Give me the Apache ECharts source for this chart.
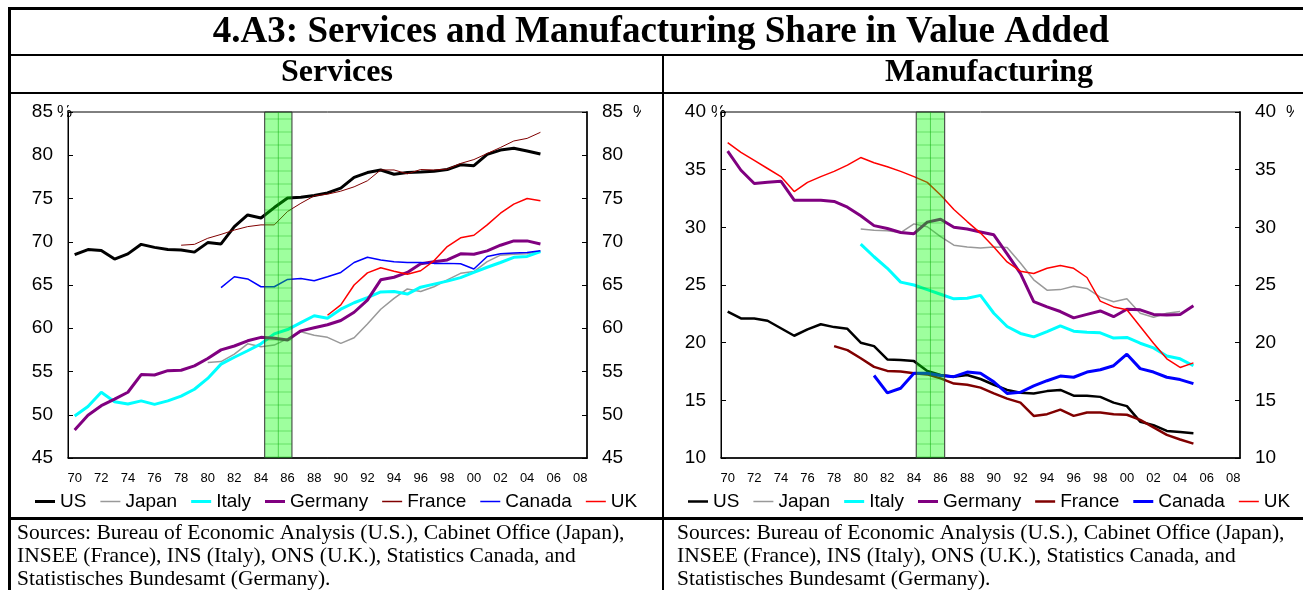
<!DOCTYPE html>
<html>
<head>
<meta charset="utf-8">
<title>4.A3: Services and Manufacturing Share in Value Added</title>
<script src="https://cdn.jsdelivr.net/npm/echarts@6/dist/echarts.min.js"></script>
<style>
  html, body { margin: 0; padding: 0; background: #fff; }
  #chart { width: 1303px; height: 590px; }
</style>
</head>
<body>
<div id="chart"></div>
<script>
  // categories: 1970 .. 2008
  var years = ['1970', '1971', '1972', '1973', '1974', '1975', '1976', '1977', '1978', '1979',
    '1980', '1981', '1982', '1983', '1984', '1985', '1986', '1987', '1988', '1989',
    '1990', '1991', '1992', '1993', '1994', '1995', '1996', '1997', '1998', '1999',
    '2000', '2001', '2002', '2003', '2004', '2005', '2006', '2007', '2008']
  var countries = ['US', 'Japan', 'Italy', 'Germany', 'France', 'Canada', 'UK']
  var colors = ['#000000', '#999999', '#00ffff', '#800080', '#800000', '#0000ff', '#ff0000']
  var svcRange = [45, 85]
  var mfgRange = [10, 40]
  // shaded period, in year units (year centre = whole number)
  var shadeServices = [1984.28, 1986.33]
  var shadeManufacturing = [1984.17, 1986.31]

  // Services share in value added (%)
  var svcUS = [68.5, 69.1, 69.0, 68.0, 68.6, 69.7, 69.35, 69.1, 69.05, 68.8, 69.9, 69.75, 71.75, 73.1, 72.75, 73.95, 75.05, 75.15, 75.35, 75.65,
    76.2, 77.45, 78.0, 78.3, 77.8, 78.0, 78.05, 78.15, 78.35, 78.9, 78.8, 80.1, 80.6, 80.8, 80.5, 80.15]
  var svcJapan = [56.05, 56.15, 57.0, 58.2, 57.85, 58.05, 58.8, 59.6, 59.2, 58.95, 58.25, 58.9, 60.5, 62.2, 63.45, 64.55, 64.25, 64.8,
    65.6, 66.35, 66.55, 67.7, 68.45, 68.55, 68.6, 68.9]
  var svcItaly = [49.85, 50.95, 52.6, 51.5, 51.25, 51.6, 51.2, 51.6, 52.15, 52.95, 54.2, 55.85, 56.65, 57.4, 58.2, 59.35, 59.85, 60.65,
    61.45, 61.15, 62.2, 62.95, 63.55, 64.2, 64.25, 63.95, 64.75, 65.1, 65.45, 65.85, 66.45, 67.05, 67.6, 68.2, 68.3, 68.85]
  var svcGermany = [48.25, 49.95, 51.05, 51.8, 52.6, 54.65, 54.6, 55.1, 55.15, 55.65, 56.5, 57.5, 57.95, 58.55, 58.95, 58.85, 58.65,
    59.7, 60.05, 60.4, 60.9, 61.85, 63.25, 65.6, 65.9, 66.45, 67.45, 67.7, 67.9, 68.6, 68.55, 68.95, 69.6, 70.1, 70.1, 69.75]
  var svcFrance = [69.6, 69.7, 70.4, 70.85, 71.35, 71.75, 71.95, 71.95, 73.5, 74.45, 75.3, 75.5, 75.85, 76.35, 77.05, 78.3, 78.3, 77.85,
    78.35, 78.3, 78.4, 79.05, 79.5, 80.2, 80.9, 81.65, 81.95, 82.65]
  var svcCanada = [64.7, 65.95, 65.7, 64.8, 64.8, 65.65, 65.75, 65.5, 65.95, 66.45, 67.6, 68.2, 67.9, 67.7, 67.6, 67.6, 67.5, 67.5,
    67.45, 66.85, 68.3, 68.6, 68.7, 68.75, 68.95]
  var svcUK = [61.5, 62.7, 65.0, 66.4, 67.0, 66.6, 66.25, 66.65, 67.8, 69.45, 70.45, 70.75, 71.95, 73.3, 74.35, 75.0, 74.75]

  // Manufacturing share in value added (%)
  var mfgUS = [22.7, 22.1, 22.1, 21.9, 21.25, 20.6, 21.15, 21.6, 21.35, 21.2, 20.0, 19.7, 18.55, 18.5, 18.4, 17.55, 17.2, 17.05, 17.2,
    16.85, 16.35, 15.9, 15.65, 15.6, 15.8, 15.9, 15.4, 15.4, 15.3, 14.8, 14.5, 13.15, 12.85, 12.35, 12.25, 12.15]
  var mfgJapan = [29.85, 29.75, 29.7, 29.55, 30.3, 30.05, 29.2, 28.45, 28.3, 28.2, 28.3, 28.25, 26.9, 25.45, 24.55, 24.6, 24.9, 24.7,
    23.95, 23.55, 23.8, 22.55, 22.2, 22.55, 22.7]
  var mfgItaly = [28.55, 27.45, 26.45, 25.25, 25.0, 24.6, 24.2, 23.8, 23.85, 24.1, 22.55, 21.4, 20.8, 20.5, 20.95, 21.45, 21.0, 20.9,
    20.85, 20.4, 20.45, 19.95, 19.55, 18.85, 18.6, 18.0]
  var mfgGermany = [36.6, 34.95, 33.8, 33.9, 34.0, 32.35, 32.35, 32.35, 32.25, 31.75, 31.0, 30.15, 29.9, 29.55, 29.45, 30.45, 30.7, 30.0,
    29.85, 29.6, 29.35, 27.7, 26.0, 23.55, 23.1, 22.7, 22.15, 22.45, 22.75, 22.25, 22.9, 22.85, 22.45, 22.4, 22.45, 23.2]
  var mfgFrance = [19.7, 19.35, 18.65, 17.9, 17.55, 17.5, 17.35, 17.25, 16.9, 16.45, 16.35, 16.1, 15.6, 15.15, 14.8, 13.65, 13.8, 14.2,
    13.65, 13.95, 13.95, 13.8, 13.75, 13.3, 12.65, 12.0, 11.6, 11.25]
  var mfgCanada = [17.15, 15.65, 16.05, 17.35, 17.35, 17.15, 17.05, 17.45, 17.35, 16.6, 15.6, 15.7, 16.25, 16.7, 17.1, 17.0, 17.45,
    17.65, 18.0, 19.0, 17.75, 17.45, 17.0, 16.8, 16.45]
  var mfgUK = [37.35, 36.5, 35.8, 35.1, 34.4, 33.1, 33.9, 34.4, 34.85, 35.4, 36.05, 35.6, 35.25, 34.85, 34.4, 33.9, 32.8, 31.55, 30.5,
    29.5, 28.3, 27.0, 26.2, 26.0, 26.45, 26.7, 26.45, 25.65, 23.6, 23.1, 22.85, 21.4, 19.95, 18.6, 17.85, 18.25]

  var sources = 'Sources: Bureau of Economic Analysis (U.S.), Cabinet Office (Japan),\n' +
    'INSEE (France), INS (Italy), ONS (U.K.), Statistics Canada, and\n' +
    'Statistisches Bundesamt (Germany).'

  // put a series that starts in a later year on the 1970.. category axis
  function fromYear(start, values) {
    var out = []
    for (var i = 0; i < years.length; i++) {
      var k = i - (start - 1970)
      out.push(k >= 0 && k < values.length ? values[k] : null)
    }
    return out
  }

  var svcData = [fromYear(1970, svcUS), fromYear(1980, svcJapan), fromYear(1970, svcItaly), fromYear(1970, svcGermany),
    fromYear(1978, svcFrance), fromYear(1981, svcCanada), fromYear(1989, svcUK)]
  var mfgData = [fromYear(1970, mfgUS), fromYear(1980, mfgJapan), fromYear(1980, mfgItaly), fromYear(1970, mfgGermany),
    fromYear(1978, mfgFrance), fromYear(1981, mfgCanada), fromYear(1970, mfgUK)]
  var svcWidths = [3, 1.5, 3, 3, 1, 1.5, 1.5]
  var mfgWidths = [2.5, 1.5, 3, 3, 2.5, 3, 1.5]

  var font = 'Liberation Sans'
  var serif = 'Liberation Serif'

  function makeSeries(data, widths, xi, yi) {
    return countries.map(function (name, i) {
      return {
        name: name,
        type: 'line',
        xAxisIndex: xi,
        yAxisIndex: yi,
        data: data[i],
        symbol: 'none',
        connectNulls: false,
        lineStyle: { color: colors[i], width: widths[i] },
        itemStyle: { color: colors[i] },
        z: 3
      }
    })
  }

  // translucent green band drawn over the lines, with a faint grid pattern
  function shadeSeries(range, yRange, xi, yi) {
    return {
      type: 'custom',
      xAxisIndex: xi,
      yAxisIndex: yi,
      silent: true,
      z: 10,
      dimensions: ['start', 'end'],
      encode: { x: [0, 1] },
      data: [range],
      renderItem: function (params, api) {
        var p0 = api.coord([api.value(0), yRange[1]])
        var p1 = api.coord([api.value(1), yRange[0]])
        var w = p1[0] - p0[0]
        var h = p1[1] - p0[1]
        var kids = [{
          type: 'rect',
          shape: { x: p0[0], y: p0[1], width: w, height: h },
          style: { fill: 'rgba(0, 255, 0, 0.38)', stroke: '#333', lineWidth: 1 }
        }]
        for (var y = p0[1] + 7; y < p1[1]; y += 13) {
          kids.push({
            type: 'line',
            shape: { x1: p0[0], y1: y, x2: p1[0], y2: y },
            style: { stroke: 'rgba(0, 170, 0, 0.35)', lineWidth: 1 }
          })
        }
        kids.push({
          type: 'line',
          shape: { x1: p0[0] + w / 2, y1: p0[1], x2: p0[0] + w / 2, y2: p1[1] },
          style: { stroke: 'rgba(0, 170, 0, 0.5)', lineWidth: 1 }
        })
        return { type: 'group', children: kids }
      }
    }
  }

  function catAxis(gi) {
    return {
      type: 'category',
      gridIndex: gi,
      data: years,
      boundaryGap: true,
      axisLine: { lineStyle: { color: '#000', width: 1.5 } },
      axisTick: { inside: true, length: 5, interval: 0, lineStyle: { color: '#000' } },
      axisLabel: {
        interval: 1,
        margin: 14,
        color: '#000',
        fontFamily: font,
        fontSize: 13,
        formatter: function (v) { return v.slice(2) }
      },
      splitLine: { show: false }
    }
  }

  function bandAxis(gi) {
    return { type: 'value', gridIndex: gi, min: 1969.5, max: 2008.5, show: false }
  }

  function valAxis(gi, pos, range) {
    return {
      type: 'value',
      gridIndex: gi,
      position: pos,
      min: range[0],
      max: range[1],
      interval: 5,
      axisLine: { show: true, lineStyle: { color: pos === 'right' ? '#222' : '#000', width: pos === 'right' ? 2 : 1 } },
      axisTick: { show: true, inside: true, length: 5, lineStyle: { color: '#000' } },
      axisLabel: { margin: 15, color: '#000', fontFamily: font, fontSize: 19 },
      splitLine: { show: false }
    }
  }

  // legend icon: a horizontal bar of the given thickness inside a 20x14 box
  function lineIcon(t) {
    var a = 7 - t / 2
    var b = 7 + t / 2
    return 'path://M0,0L0,0M20,14L20,14M0,' + a + 'L20,' + a + 'L20,' + b + 'L0,' + b + 'Z'
  }

  function legendFor(left, widths) {
    return {
      left: left,
      top: 492,
      padding: 0,
      itemWidth: 20,
      itemHeight: 14,
      itemGap: 14,
      textStyle: { color: '#000', fontFamily: font, fontSize: 19 },
      data: countries.map(function (name, i) {
        return { name: name, icon: lineIcon(Math.max(widths[i], 1.5)) }
      })
    }
  }

  function bar(x, y, w, h) {
    return { type: 'rect', shape: { x: x, y: y, width: w, height: h }, style: { fill: '#000' }, silent: true }
  }

  function text(x, y, t, f, align) {
    return {
      type: 'text', x: x, y: y, silent: true,
      style: { text: t, font: f, fill: '#000', align: align || 'left', verticalAlign: 'middle' }
    }
  }

  function cover(x, w) {
    return { type: 'rect', shape: { x: x, y: 100, width: w, height: 24 }, style: { fill: '#fff' }, silent: true }
  }

  var chart = echarts.init(document.getElementById('chart'))
  chart.setOption({
    backgroundColor: '#fff',
    animation: false,
    grid: [
      { left: 68, top: 112, width: 519, height: 346, show: true, borderColor: '#000', borderWidth: 1, backgroundColor: 'transparent' },
      { left: 721, top: 112, width: 519, height: 346, show: true, borderColor: '#000', borderWidth: 1, backgroundColor: 'transparent' }
    ],
    xAxis: [catAxis(0), bandAxis(0), catAxis(1), bandAxis(1)],
    yAxis: [
      valAxis(0, 'left', svcRange), valAxis(0, 'right', svcRange),
      valAxis(1, 'left', mfgRange), valAxis(1, 'right', mfgRange)
    ],
    legend: [legendFor(35, svcWidths), legendFor(688, mfgWidths)],
    series: makeSeries(svcData, svcWidths, 0, 0)
      .concat([shadeSeries(shadeServices, svcRange, 1, 0)])
      .concat(makeSeries(mfgData, mfgWidths, 2, 2))
      .concat([shadeSeries(shadeManufacturing, mfgRange, 3, 2)]),
    graphic: [
      // frame
      bar(8, 7, 1295, 3),
      bar(8, 7, 3, 583),
      bar(8, 54, 1295, 2),
      bar(8, 92, 1295, 2),
      bar(662, 54, 2, 536),
      bar(8, 517, 1295, 3),
      // headings
      text(661, 32, '4.A3: Services and Manufacturing Share in Value Added', 'bold 37px ' + serif, 'center'),
      text(337, 73, 'Services', 'bold 32px ' + serif, 'center'),
      text(989, 73, 'Manufacturing', 'bold 32px ' + serif, 'center'),
      // percent marks next to the top tick labels
      text(57, 112, '%', '17px ' + font), cover(63, 4),
      text(633, 112, '%', '17px ' + font), cover(641, 8),
      text(711, 112, '%', '17px ' + font), cover(717, 3),
      text(1286, 112, '%', '17px ' + font), cover(1294, 9),
      // sources
      {
        type: 'text', x: 17, y: 522, silent: true,
        style: { text: sources, font: '21.5px ' + serif, lineHeight: 23, fill: '#000', verticalAlign: 'top' }
      },
      {
        type: 'text', x: 677, y: 522, silent: true,
        style: { text: sources, font: '21.5px ' + serif, lineHeight: 23, fill: '#000', verticalAlign: 'top' }
      }
    ]
  })
</script>
</body>
</html>
